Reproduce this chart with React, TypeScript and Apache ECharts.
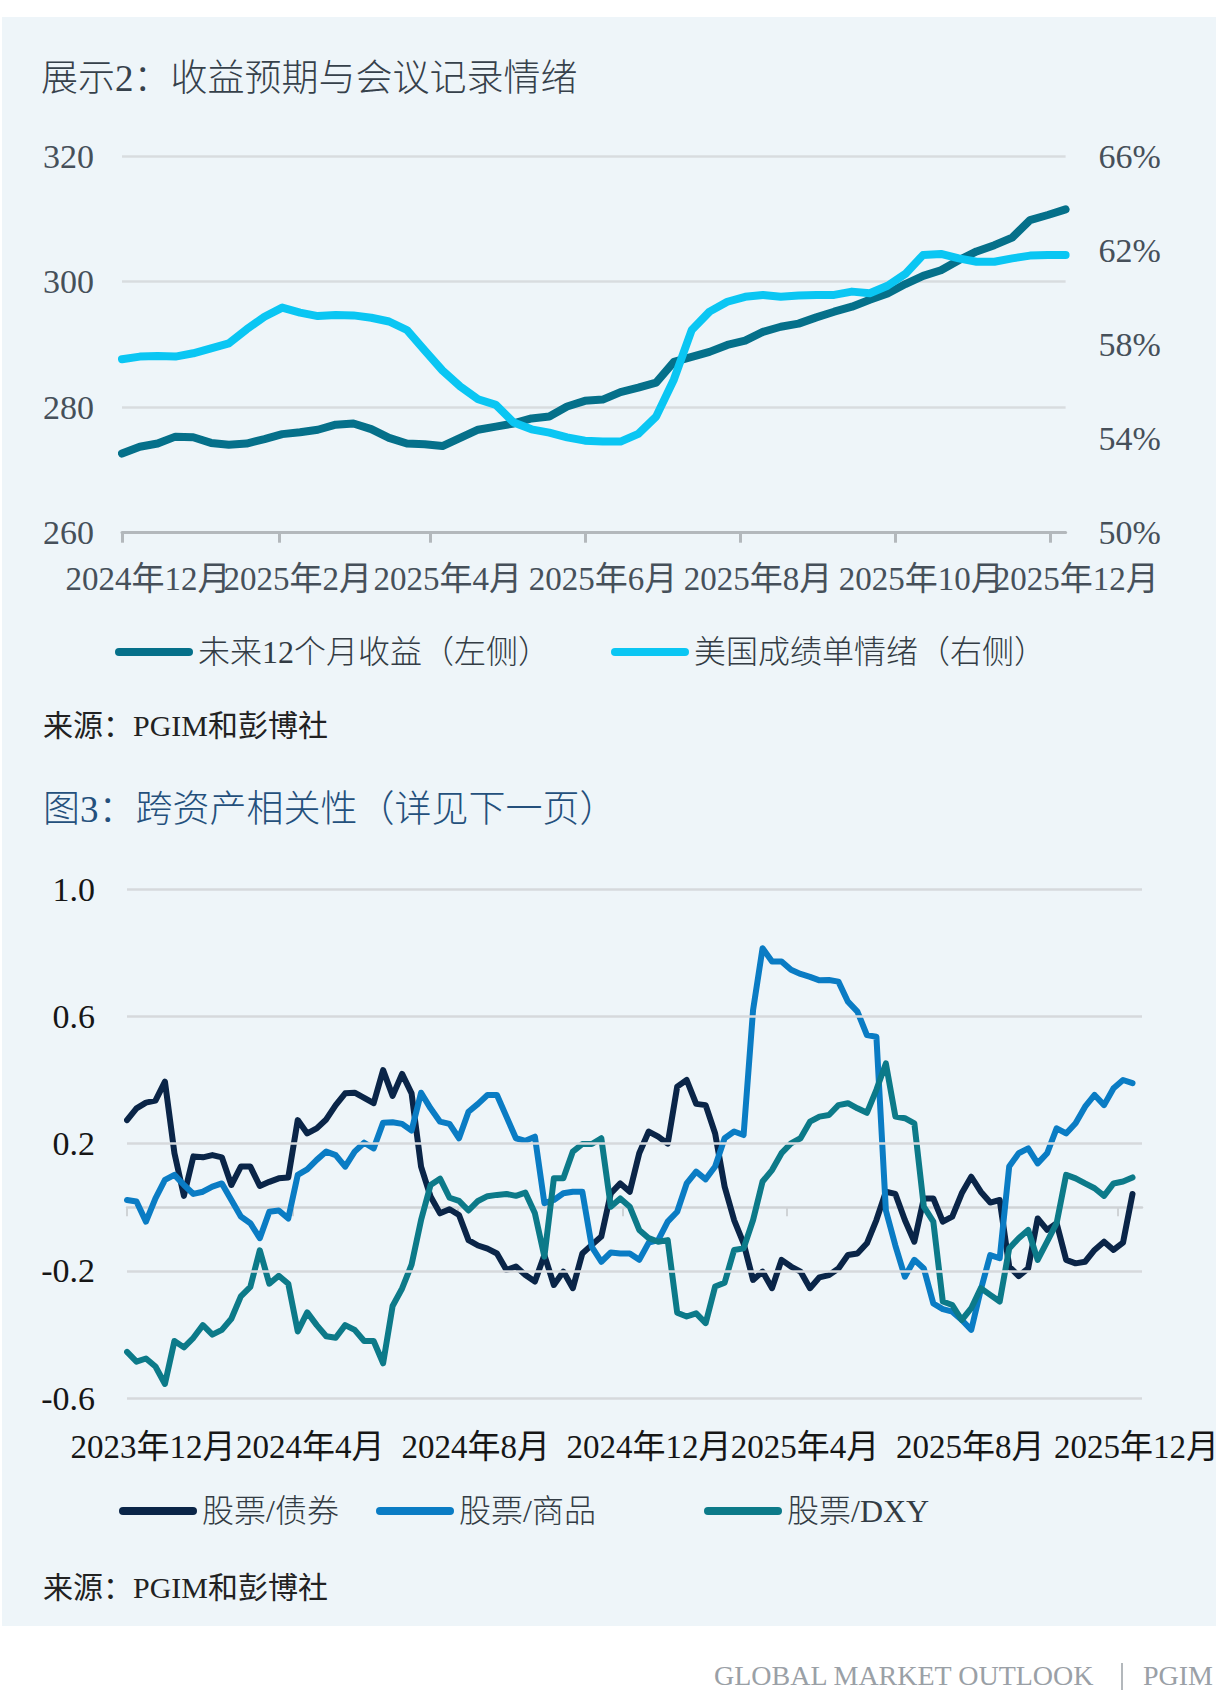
import React, { useEffect, useRef } from 'react';
import * as echarts from 'echarts';

// ---------- Data: chart 1 (weekly, from 2024-12-01) ----------
const topStartDate = [2024, 11, 1];
const topEarnings = [
  272.6, 273.7, 274.2, 275.3, 275.2, 274.3, 274.0, 274.2, 274.9, 275.7,
  276.0, 276.4, 277.2, 277.4, 276.5, 275.1, 274.2, 274.1, 273.8, 275.1,
  276.4, 276.9, 277.4, 278.2, 278.5, 280.1, 281.0, 281.2, 282.4, 283.1,
  283.9, 287.2, 288.0, 288.8, 289.9, 290.6, 292.0, 292.8, 293.3, 294.3,
  295.2, 296.0, 297.1, 298.1, 299.6, 300.9, 301.8, 303.4, 304.8, 305.8,
  307.0, 309.8, 310.6, 311.5,
];
const topSentiment = [
  57.37, 57.48, 57.51, 57.48, 57.62, 57.83, 58.04, 58.64, 59.17, 59.56,
  59.35, 59.2, 59.25, 59.23, 59.13, 58.97, 58.61, 57.74, 56.89, 56.21,
  55.67, 55.43, 54.68, 54.39, 54.25, 54.05, 53.91, 53.87, 53.87, 54.2,
  54.93, 56.51, 58.61, 59.39, 59.81, 60.02, 60.1, 60.02, 60.07, 60.1,
  60.1, 60.24, 60.17, 60.49, 60.99, 61.8, 61.84, 61.65, 61.51, 61.51,
  61.65, 61.77, 61.8, 61.8,
];
const topTickMonths = [
  [2024, 11], [2025, 1], [2025, 3], [2025, 5], [2025, 7], [2025, 9], [2025, 11],
];
const leftTicks = [260, 280, 300, 320];
const rightTicks = [50, 54, 58, 62, 66];

// ---------- Data: chart 2 (weekly, from 2023-12-01) ----------
const bottomStartDate = [2023, 11, 1];
const stockBond = [
  0.274, 0.311, 0.329, 0.335, 0.395, 0.17, 0.036, 0.16, 0.157, 0.164,
  0.157, 0.07, 0.128, 0.128, 0.067, 0.08, 0.091, 0.094, 0.274, 0.232,
  0.248, 0.276, 0.321, 0.358, 0.36, 0.344, 0.327, 0.431, 0.35, 0.419,
  0.358, 0.128, 0.034, -0.019, -0.006, -0.024, -0.103, -0.12, -0.13, -0.145,
  -0.197, -0.186, -0.213, -0.233, -0.15, -0.244, -0.202, -0.254, -0.145, -0.118,
  -0.092, 0.044, 0.075, 0.049, 0.17, 0.238, 0.222, 0.2, 0.379, 0.4,
  0.325, 0.321, 0.232, 0.065, -0.04, -0.113, -0.228, -0.202, -0.254, -0.165,
  -0.186, -0.202, -0.254, -0.22, -0.213, -0.192, -0.15, -0.145, -0.113, -0.04,
  0.049, 0.042, -0.04, -0.108, 0.028, 0.028, -0.045, -0.029, 0.044, 0.096,
  0.049, 0.015, 0.023, -0.186, -0.216, -0.192, -0.035, -0.071, -0.05, -0.165,
  -0.176, -0.171, -0.134, -0.108, -0.134, -0.111, 0.042,
];
const stockCommodity = [
  0.023, 0.018, -0.045, 0.028, 0.086, 0.102, 0.07, 0.042, 0.049, 0.065,
  0.075, 0.023, -0.029, -0.05, -0.097, -0.014, -0.01, -0.035, 0.102, 0.119,
  0.149, 0.175, 0.164, 0.128, 0.175, 0.203, 0.185, 0.266, 0.267, 0.262,
  0.241, 0.36, 0.311, 0.269, 0.262, 0.217, 0.3, 0.325, 0.353, 0.353,
  0.285, 0.217, 0.209, 0.222, 0.013, 0.023, 0.044, 0.049, 0.049, -0.124,
  -0.171, -0.142, -0.145, -0.145, -0.165, -0.111, -0.103, -0.045, -0.014, 0.075,
  0.112, 0.088, 0.128, 0.217, 0.238, 0.227, 0.62, 0.814, 0.772, 0.772,
  0.746, 0.733, 0.724, 0.713, 0.714, 0.709, 0.646, 0.615, 0.541, 0.536,
  -0.01, -0.12, -0.218, -0.165, -0.192, -0.302, -0.32, -0.328, -0.354, -0.385,
  -0.26, -0.15, -0.16, 0.128, 0.17, 0.185, 0.138, 0.17, 0.248, 0.232,
  0.264, 0.316, 0.353, 0.321, 0.374, 0.4, 0.39,
];
const stockDxy = [
  -0.454, -0.485, -0.475, -0.5, -0.555, -0.42, -0.44, -0.41, -0.37, -0.4,
  -0.385, -0.35, -0.28, -0.25, -0.135, -0.24, -0.215, -0.24, -0.39, -0.33,
  -0.37, -0.405, -0.41, -0.37, -0.385, -0.42, -0.42, -0.49, -0.31, -0.255,
  -0.18, -0.04, 0.07, 0.09, 0.03, 0.02, -0.01, 0.02, 0.035, 0.039,
  0.042, 0.036, 0.046, -0.019, -0.155, 0.091, 0.091, 0.175, 0.199, 0.199,
  0.217, 0.002, 0.028, 0.002, -0.071, -0.097, -0.108, -0.103, -0.331, -0.343,
  -0.333, -0.364, -0.249, -0.237, -0.134, -0.129, -0.04, 0.081, 0.117, 0.17,
  0.201, 0.217, 0.269, 0.285, 0.29, 0.321, 0.327, 0.311, 0.297, 0.369,
  0.452, 0.285, 0.28, 0.264, 0.002, -0.045, -0.296, -0.307, -0.354, -0.317,
  -0.254, -0.275, -0.296, -0.129, -0.097, -0.071, -0.165, -0.108, -0.05, 0.102,
  0.091, 0.075, 0.06, 0.036, 0.075, 0.081, 0.094,
];
const bottomTickMonths = [
  [2023, 11], [2024, 3], [2024, 7], [2024, 11], [2025, 3], [2025, 7], [2025, 11],
];
const corrTicks = [-0.6, -0.2, 0.2, 0.6, 1.0];

// ---------- Helpers ----------
const DAY = 86400000;
const utc = (y: number, m: number, d = 1) => Date.UTC(y, m, d);
const weekly = (start: number[], n: number) =>
  Array.from({ length: n }, (_, i) => utc(start[0], start[1], start[2]) + i * 7 * DAY);
const fmtMonth = (v: number) => {
  const d = new Date(v);
  return `${d.getUTCFullYear()}年${d.getUTCMonth() + 1}月`;
};

const SERIF = "'Liberation Serif', 'Noto Sans CJK SC', serif";

const C_TEAL_TOP = '#05708A';
const C_CYAN = '#0AC6F3';
const C_NAVY = '#0A2548';
const C_BLUE = '#0A7CC4';
const C_TEAL = '#0C7A89';

const ICON = 'path://M4 0H74A4 4 0 0 1 74 8H4A4 4 0 0 1 4 0Z';

// labels-only x axis (labels are anchored a little right of their tick, as in the source)
const labelAxis = (
  gridIndex: number, min: number, max: number, values: number[], color: string, margin: number,
  edgeValue?: number,
) => {
  const font = { fontSize: 33, fontFamily: SERIF, color };
  return {
    type: 'value', gridIndex, min, max, position: 'bottom',
    axisLine: { show: false, onZero: false },
    axisTick: { show: false },
    splitLine: { show: false },
    axisLabel: {
      customValues: values,
      formatter: (v: number) => {
        const s = fmtMonth(v);
        if (edgeValue !== undefined && v === edgeValue) return `{e|${s}}`;
        return s.length >= 8 ? `{w|${s}}` : `{n|${s}}`;
      },
      rich: {
        w: { ...font, padding: [0, 0, 0, 52] },
        n: { ...font, padding: [0, 0, 0, 36] },
        e: { ...font, padding: [0, 0, 0, 38] },
      },
      ...font,
      margin,
      showMinLabel: true,
      showMaxLabel: true,
      hideOverlap: false,
    },
  };
};

export default function App() {
  const ref = useRef<HTMLDivElement>(null);

  useEffect(() => {
    document.body.style.margin = '0';
    if (!ref.current) return;
    const chart = echarts.init(ref.current, undefined, { renderer: 'svg' });

    const topDates = weekly(topStartDate, topEarnings.length);
    const botDates = weekly(bottomStartDate, stockBond.length);
    const topMin = topDates[0];
    const topMax = topDates[topDates.length - 1];
    const botMin = botDates[0];
    const botMax = botMin + 749 * DAY;
    const topTicks = topTickMonths.map(([y, m]) => utc(y, m));
    const botTicks = bottomTickMonths.map(([y, m]) => utc(y, m));
    const even = (a: number[]) => a.filter((_, i) => i % 2 === 0);
    const odd = (a: number[]) => a.filter((_, i) => i % 2 === 1);
    const botLast = botTicks[botTicks.length - 1];

    const legendText = { fontSize: 32, fontFamily: SERIF, color: '#333c44', fontWeight: 300 as any };
    const legendBase = {
      icon: ICON,
      itemWidth: 78,
      itemHeight: 8,
      textStyle: legendText,
      selectedMode: false,
      padding: 0,
    };

    const option: any = {
      animation: false,
      backgroundColor: 'transparent',
      grid: [
        { left: 122, top: 156, width: 943.6, height: 376.7, containLabel: false, outerBoundsMode: 'none' },
        { left: 127, top: 889, width: 1015, height: 509.3, containLabel: false, outerBoundsMode: 'none' },
      ],
      xAxis: [
        {
          type: 'value', gridIndex: 0, min: topMin, max: topMax, position: 'bottom',
          axisLine: { show: true, lineStyle: { color: '#b3b8bc', width: 3 } },
          axisTick: { show: true, customValues: topTicks, length: 10, lineStyle: { color: '#b3b8bc', width: 3 } },
          axisLabel: { show: false },
          splitLine: { show: false },
        },
        labelAxis(0, topMin, topMax, even(topTicks), '#46505a', 30),
        labelAxis(0, topMin, topMax, odd(topTicks), '#46505a', 30),
        {
          type: 'value', gridIndex: 1, min: botMin, max: botMax, position: 'bottom',
          axisLine: { show: true, onZero: true, onZeroAxisIndex: 2, lineStyle: { color: '#cfd3d6', width: 2.5 } },
          axisTick: { show: true, customValues: botTicks, length: 9, lineStyle: { color: '#cfd3d6', width: 2 } },
          axisLabel: { show: false },
          splitLine: { show: false },
        },
        labelAxis(1, botMin, botMax, even(botTicks), '#161616', 32, botLast),
        labelAxis(1, botMin, botMax, odd(botTicks), '#161616', 32),
      ],
      yAxis: [
        {
          type: 'value', gridIndex: 0, min: 260, max: 320, interval: 20, position: 'left',
          axisLine: { show: false }, axisTick: { show: false },
          axisLabel: { customValues: leftTicks, fontSize: 34, fontFamily: SERIF, color: '#46505a', margin: 28 },
          splitLine: { show: true, lineStyle: { color: '#d8dcdf', width: 2.5 } },
        },
        {
          type: 'value', gridIndex: 0, min: 50, max: 66, position: 'right',
          axisLine: { show: false }, axisTick: { show: false },
          axisLabel: {
            customValues: rightTicks, formatter: '{value}%', fontSize: 34, fontFamily: SERIF,
            color: '#46505a', margin: 33,
          },
          splitLine: { show: false },
        },
        {
          type: 'value', gridIndex: 1, min: -0.6, max: 1.0, position: 'left',
          axisLine: { show: false }, axisTick: { show: false },
          axisLabel: {
            customValues: corrTicks, formatter: (v: number) => v.toFixed(1), fontSize: 34,
            fontFamily: SERIF, color: '#161616', margin: 32,
          },
          splitLine: { show: false },
        },
      ],
      legend: [
        { ...legendBase, data: ['未来12个月收益（左侧）'], left: 115, top: 636 },
        { ...legendBase, data: ['美国成绩单情绪（右侧）'], left: 611, top: 636 },
        { ...legendBase, data: ['股票/债券'], left: 119, top: 1495 },
        { ...legendBase, data: ['股票/商品'], left: 376, top: 1495 },
        { ...legendBase, data: ['股票/DXY'], left: 704, top: 1495 },
      ],
      series: [
        {
          name: '未来12个月收益（左侧）', type: 'line', xAxisIndex: 0, yAxisIndex: 0,
          data: topDates.map((d, i) => [d, topEarnings[i]]),
          symbol: 'none', showSymbol: false,
          lineStyle: { width: 8, color: C_TEAL_TOP, cap: 'round', join: 'round' },
          itemStyle: { color: C_TEAL_TOP },
        },
        {
          name: '美国成绩单情绪（右侧）', type: 'line', xAxisIndex: 0, yAxisIndex: 1,
          data: topDates.map((d, i) => [d, topSentiment[i]]),
          symbol: 'none', showSymbol: false,
          lineStyle: { width: 8, color: C_CYAN, cap: 'round', join: 'round' },
          itemStyle: { color: C_CYAN },
        },
        {
          name: 'grid', type: 'line', xAxisIndex: 3, yAxisIndex: 2, data: [], z: 1, silent: true,
          markLine: {
            silent: true, symbol: 'none', animation: false, label: { show: false },
            lineStyle: { color: '#d6d9dc', width: 2.5, type: 'solid' },
            data: corrTicks.map((v) => ({ yAxis: v })),
          },
        },
        {
          name: '股票/债券', type: 'line', xAxisIndex: 3, yAxisIndex: 2,
          data: botDates.map((d, i) => [d, stockBond[i]]),
          symbol: 'none', showSymbol: false,
          lineStyle: { width: 6, color: C_NAVY, cap: 'round', join: 'round' },
          itemStyle: { color: C_NAVY },
        },
        {
          name: '股票/商品', type: 'line', xAxisIndex: 3, yAxisIndex: 2,
          data: botDates.map((d, i) => [d, stockCommodity[i]]),
          symbol: 'none', showSymbol: false,
          lineStyle: { width: 6, color: C_BLUE, cap: 'round', join: 'round' },
          itemStyle: { color: C_BLUE },
        },
        {
          name: '股票/DXY', type: 'line', xAxisIndex: 3, yAxisIndex: 2,
          data: botDates.map((d, i) => [d, stockDxy[i]]),
          symbol: 'none', showSymbol: false,
          lineStyle: { width: 6, color: C_TEAL, cap: 'round', join: 'round' },
          itemStyle: { color: C_TEAL },
        },
      ],
      graphic: [
        {
          type: 'text', x: 41, y: 78,
          style: { text: '展示2：收益预期与会议记录情绪', fontSize: 37, fontFamily: SERIF, fontWeight: 300, fill: '#36414b', verticalAlign: 'middle' },
        },
        {
          type: 'text', x: 43, y: 725,
          style: { text: '来源：PGIM和彭博社', fontSize: 30, fontFamily: SERIF, fill: '#222222', verticalAlign: 'middle' },
        },
        {
          type: 'text', x: 43, y: 809,
          style: { text: '图3：跨资产相关性（详见下一页）', fontSize: 37, fontFamily: SERIF, fontWeight: 300, fill: '#24507c', verticalAlign: 'middle' },
        },
        {
          type: 'text', x: 43, y: 1587,
          style: { text: '来源：PGIM和彭博社', fontSize: 30, fontFamily: SERIF, fill: '#222222', verticalAlign: 'middle' },
        },
        {
          type: 'text', x: 714, y: 1675,
          style: { text: 'GLOBAL MARKET OUTLOOK', fontSize: 28, fontFamily: SERIF, fill: '#9aa0a6', verticalAlign: 'middle' },
        },
        {
          type: 'line', shape: { x1: 1122, y1: 1663, x2: 1122, y2: 1690 },
          style: { stroke: '#9aa0a6', lineWidth: 1.5 },
        },
        {
          type: 'text', x: 1143, y: 1675,
          style: { text: 'PGIM', fontSize: 28, fontFamily: SERIF, fill: '#9aa0a6', verticalAlign: 'middle' },
        },
      ],
    };

    chart.setOption(option);
    return () => chart.dispose();
  }, []);

  return (
    <div style={{ position: 'relative', width: 1223, height: 1693, background: '#ffffff', overflow: 'hidden' }}>
      <div style={{ position: 'absolute', left: 2, top: 17, width: 1214, height: 1609, background: '#EEF5F9' }} />
      <div ref={ref} style={{ position: 'absolute', left: 0, top: 0, width: 1223, height: 1693 }} />
    </div>
  );
}
